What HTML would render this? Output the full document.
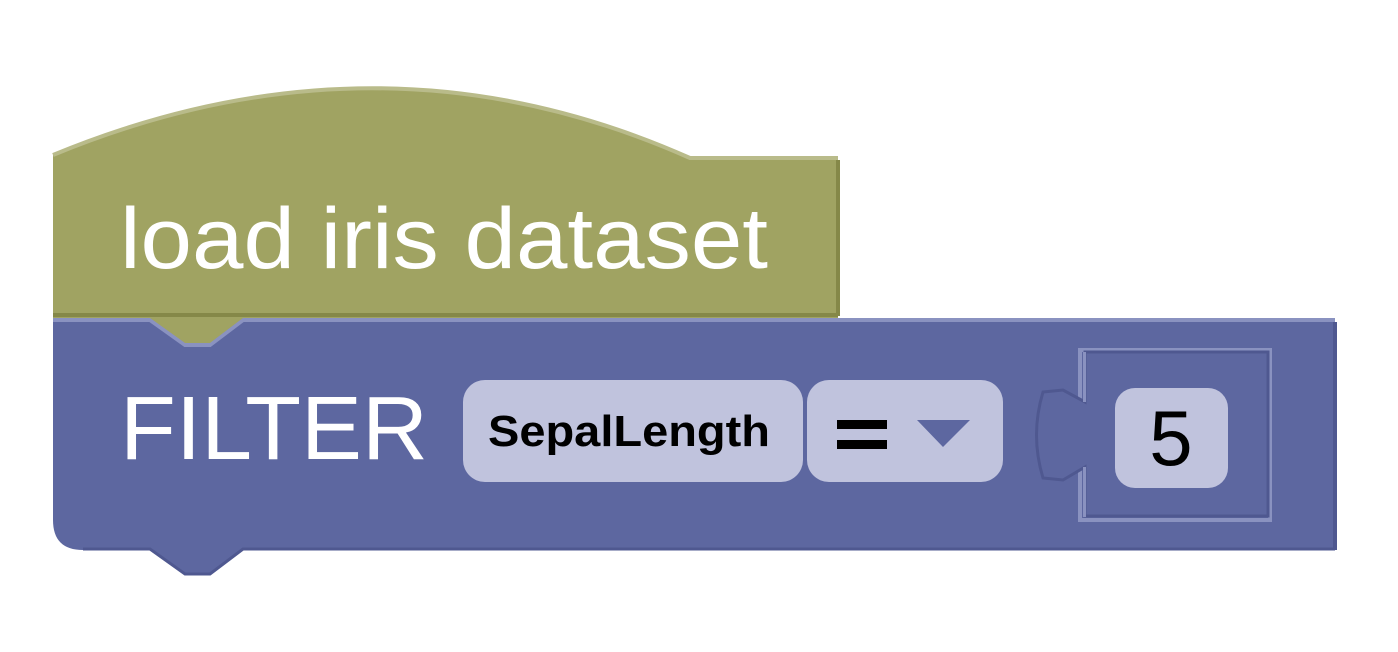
<!DOCTYPE html>
<html><head><meta charset="utf-8"><style>
html,body{margin:0;padding:0;background:#fff;width:1398px;height:652px;overflow:hidden}
svg{display:block}
</style></head><body>
<svg width="1398" height="652" viewBox="0 0 1398 652" xmlns="http://www.w3.org/2000/svg">
<!-- green block -->
<path d="M53,155 Q380,20 690,158 L838,158 L838,318 L53,318 Z" fill="#a0a362"/>
<path d="M53,155 Q380,20 690,158 L838,158" fill="none" stroke="#b9bb8a" stroke-width="4"/>
<line x1="838" y1="160" x2="838" y2="316" stroke="#858848" stroke-width="4"/>
<line x1="53" y1="315" x2="838" y2="315" stroke="#858848" stroke-width="4"/>
<text x="120" y="268" font-family="Liberation Sans, sans-serif" font-size="86" fill="#fff" textLength="648" lengthAdjust="spacingAndGlyphs">load iris dataset</text>
<!-- blue block -->
<path d="M53,320 L150,320 L185,345 L210,345 L243,320 L1335,320 L1335,550 L243,550 L210,575 L185,575 L150,550 L83,550 Q53,550 53,520 Z" fill="#5d67a0"/>
<path d="M53,320 L150,320 L185,345 L210,345 L243,320 L1335,320" fill="none" stroke="#8a92c0" stroke-width="4"/>
<!-- green notch overlapping -->
<path d="M150,318 L185,343 L210,343 L243,318 Z" fill="#a0a362"/>
<path d="M150,320 L185,345 L210,345 L243,320" fill="none" stroke="#8a92c0" stroke-width="3"/>
<line x1="1335" y1="322" x2="1335" y2="550" stroke="#4f5890" stroke-width="4"/>
<path d="M83,549 L150,549 L185,574 L210,574 L243,549 L1335,549" fill="none" stroke="#4f5890" stroke-width="3"/>
<text x="120" y="459" font-family="Liberation Sans, sans-serif" font-size="90" fill="#fff" textLength="308" lengthAdjust="spacingAndGlyphs">FILTER</text>
<!-- fields -->
<rect x="463" y="380" width="340" height="102" rx="22" fill="#c0c3dd"/>
<text x="488" y="446" font-family="Liberation Sans, sans-serif" font-weight="bold" font-size="44" fill="#000" textLength="282" lengthAdjust="spacingAndGlyphs">SepalLength</text>
<rect x="807" y="380" width="196" height="102" rx="22" fill="#c0c3dd"/>
<rect x="837" y="420" width="50" height="9" fill="#000"/>
<rect x="837" y="440" width="50" height="9" fill="#000"/>
<path d="M917,420 L970,420 L943,447 Z" fill="#5d67a0"/>
<!-- input socket -->
<rect x="1080" y="350" width="190" height="170" fill="none" stroke="#8a92c0" stroke-width="4"/>
<path d="M1085,352 L1268,352 L1268,516 L1085,516 L1085,467 L1063,480 L1043,478 Q1030,435 1043,392 L1063,390 L1085,402 Z" fill="#5d67a0" stroke="#4f5890" stroke-width="3"/>
<rect x="1083" y="352" width="3" height="50" fill="#8a92c0"/>
<rect x="1083" y="467" width="3" height="50" fill="#8a92c0"/>
<rect x="1115" y="388" width="113" height="100" rx="20" fill="#c0c3dd"/>
<text x="1171" y="465" text-anchor="middle" font-family="Liberation Sans, sans-serif" font-size="78" fill="#000">5</text>
</svg>
</body></html>
